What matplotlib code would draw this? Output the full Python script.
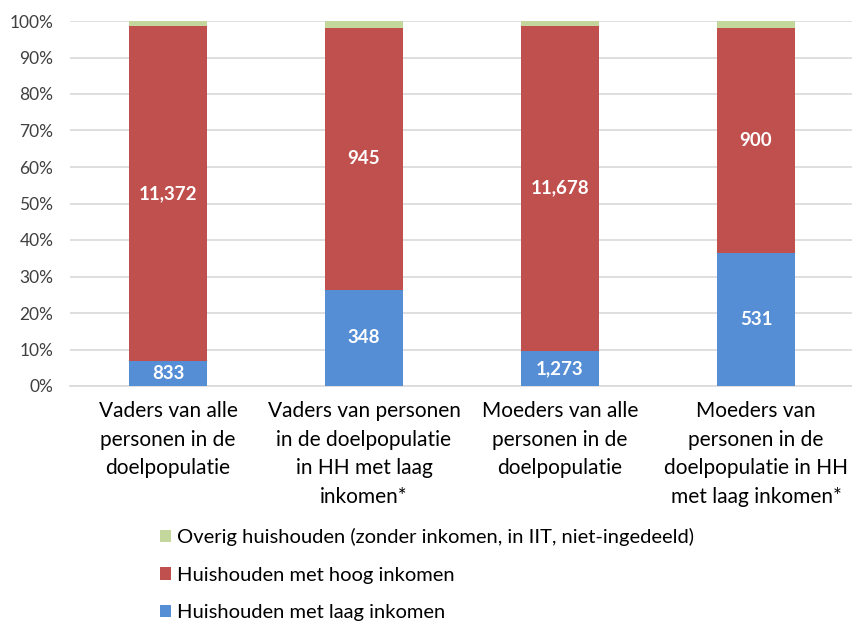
import matplotlib
matplotlib.use("Agg")
import matplotlib.pyplot as plt
import numpy as np

categories = [
    "Vaders van alle\npersonen in de\ndoelpopulatie",
    "Vaders van personen\nin de doelpopulatie\nin HH met laag\ninkomen*",
    "Moeders van alle\npersonen in de\ndoelpopulatie",
    "Moeders van\npersonen in de\ndoelpopulatie in HH\nmet laag inkomen*",
]
laag = [833, 348, 1273, 531]
hoog = [11372, 945, 11678, 900]
overig = [155, 25, 165, 30]
series_names = ["Huishouden met laag inkomen", "Huishouden met hoog inkomen",
                "Overig huishouden (zonder inkomen, in IIT, niet-ingedeeld)"]
colors = ["#558ed5", "#c0504d", "#c3d69b"]

plt.rcParams['font.family'] = ['Lato', 'DejaVu Sans']

laag_a = np.array(laag, float); hoog_a = np.array(hoog, float); ov_a = np.array(overig, float)
tot = laag_a + hoog_a + ov_a
pl, ph, po = laag_a / tot, hoog_a / tot, ov_a / tot

fig = plt.figure(figsize=(8.52, 6.24), dpi=100)
ax = fig.add_axes([70/852, 1-386/624, 784/852, 365/624])
x = np.arange(len(categories))
w = 0.40
b1 = ax.bar(x, pl, w, color=colors[0], label=series_names[0], zorder=3)
b2 = ax.bar(x, ph, w, bottom=pl, color=colors[1], label=series_names[1], zorder=3)
b3 = ax.bar(x, po, w, bottom=pl+ph, color=colors[2], label=series_names[2], zorder=3)

for i in range(len(x)):
    ax.text(x[i], pl[i]/2, f"{laag[i]:,}", ha='center', va='center', color='white',
            fontsize=13.5, fontweight='bold', zorder=4)
    ax.text(x[i], pl[i] + ph[i]/2, f"{hoog[i]:,}", ha='center', va='center', color='white',
            fontsize=13.5, fontweight='bold', zorder=4)

ax.set_xlim(-0.5, len(x)-0.5)
ax.set_ylim(0, 1)
ax.set_yticks(np.arange(0, 1.01, 0.1))
ax.set_yticklabels([f"{int(round(v*100))}%" for v in np.arange(0, 1.01, 0.1)], fontsize=12.5, color='#404040')
ax.set_xticks(x)
ax.set_xticklabels(categories, fontsize=15, color='#000000', linespacing=1.53)
ax.tick_params(axis='both', length=0)
ax.tick_params(axis='x', pad=11)
ax.tick_params(axis='y', pad=12)
ax.yaxis.grid(True, color='#d9d9d9', linewidth=1.2, zorder=0)
for s in ['top', 'right', 'left']:
    ax.spines[s].set_visible(False)
ax.spines['bottom'].set_color('#d9d9d9')
ax.spines['bottom'].set_linewidth(1.2)

handles = [b3, b2, b1]
leg = fig.legend(handles, [h.get_label() for h in handles], loc='upper left',
                 bbox_to_anchor=(152/852, 1-520/624), frameon=False, fontsize=14.5,
                 handlelength=0.55, handleheight=0.55, handletextpad=0.3, labelspacing=1.02,
                 borderaxespad=0)

fig.savefig("out.png", dpi=100)
